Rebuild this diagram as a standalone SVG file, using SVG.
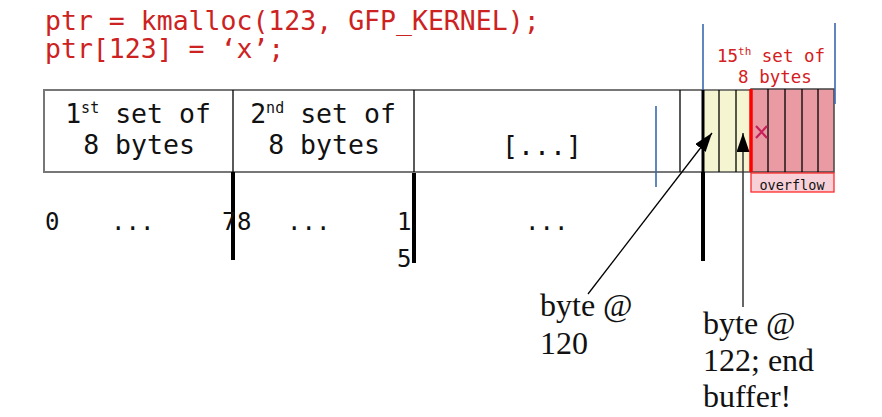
<svg xmlns="http://www.w3.org/2000/svg" width="882" height="417" viewBox="0 0 882 417">
<style>
.code{font-family:"DejaVu Sans Mono",monospace;font-size:26.5px;fill:#cc2222}
.mono{font-family:"DejaVu Sans Mono",monospace;font-size:26.5px;fill:#111}
.idx{font-family:"DejaVu Sans Mono",monospace;font-size:24px;fill:#111}
.sup{font-size:15px}
.red{font-family:"DejaVu Sans Mono",monospace;font-size:17.5px;fill:#d42020}
.small{font-family:"DejaVu Sans Mono",monospace;font-size:13.5px;fill:#111}
.serif{font-family:"Liberation Serif",serif;font-size:32px;fill:#111}
.thin{stroke:#000;stroke-width:1.3}
.thick{stroke:#000;stroke-width:4}
.blue{stroke:#3a68b0;stroke-width:1.6}
</style>
<defs>
<marker id="ah" viewBox="0 0 19 13" refX="19" refY="6.5" markerWidth="19" markerHeight="13" markerUnits="userSpaceOnUse" orient="auto">
<path d="M0,0 L19,6.5 L0,13 z" fill="#000"/>
</marker>
</defs>
<rect width="882" height="417" fill="#fff"/>
<g id="code">
<text class="code" x="45" y="30">ptr = kmalloc(123, GFP_KERNEL);</text>
<text class="code" x="45" y="58">ptr[123] = ‘x’;</text>
</g>
<g id="buffer">
<rect x="44" y="90" width="659" height="82" fill="#fff" stroke="#777" stroke-width="2"/>
<line class="thin" x1="233" y1="90" x2="233" y2="172"/>
<line class="thin" x1="414" y1="90" x2="414" y2="172"/>
<line class="thin" x1="680" y1="90" x2="680" y2="172"/>
<line class="blue" x1="656" y1="106" x2="656" y2="187"/>
</g>
<g id="set1">
<text class="mono" x="138" y="123" text-anchor="middle">1<tspan class="sup" dy="-10">st</tspan><tspan dy="10"> set of</tspan></text>
<text class="mono" x="139" y="154" text-anchor="middle">8 bytes</text>
</g>
<g id="set2">
<text class="mono" x="323" y="123" text-anchor="middle">2<tspan class="sup" dy="-10">nd</tspan><tspan dy="10"> set of</tspan></text>
<text class="mono" x="324" y="154" text-anchor="middle">8 bytes</text>
</g>
<g id="ellipsis">
<text class="mono" x="542" y="155" text-anchor="middle">[...]</text>
</g>
<g id="valid-bytes">
<rect x="703" y="90" width="48" height="82" fill="#f5f5d2" stroke="#555" stroke-width="1.5"/>
<line class="thin" x1="719" y1="90" x2="719" y2="172"/>
<line class="thin" x1="736" y1="90" x2="736" y2="172"/>
<line stroke="#000" stroke-width="3" x1="703" y1="90" x2="703" y2="172"/>
</g>
<g id="overflow-bytes">
<rect x="751" y="89" width="83" height="83" fill="#ea9aa2" stroke="#444" stroke-width="1.5"/>
<line class="thin" x1="768" y1="89" x2="768" y2="172"/>
<line class="thin" x1="785" y1="89" x2="785" y2="172"/>
<line class="thin" x1="802" y1="89" x2="802" y2="172"/>
<line class="thin" x1="818" y1="89" x2="818" y2="172"/>
<line stroke="#ff0000" stroke-width="3.5" x1="751" y1="89" x2="751" y2="172"/>
<path d="M756,126 L767,138 M767,126 L756,138" stroke="#c8205a" stroke-width="2.2" fill="none"/>
</g>
<g id="overflow-label">
<rect x="751" y="173" width="83" height="19" fill="#f8d0d8" stroke="#ff2a2a" stroke-width="1.3"/>
<text class="small" x="792" y="190" text-anchor="middle">overflow</text>
</g>
<g id="set15">
<line class="blue" x1="703" y1="24" x2="703" y2="90"/>
<line class="blue" x1="835" y1="23" x2="835" y2="104"/>
<text class="red" x="771" y="62" text-anchor="middle">15<tspan font-size="11" dy="-7">th</tspan><tspan dy="7"> set of</tspan></text>
<text class="red" x="775" y="83" text-anchor="middle">8 bytes</text>
</g>
<g id="ticks">
<line class="thick" x1="233" y1="172" x2="233" y2="260"/>
<line class="thick" x1="414" y1="173" x2="414" y2="263"/>
<line class="thick" x1="703" y1="172" x2="703" y2="261"/>
</g>
<g id="indices">
<text class="idx" x="45" y="230">0</text>
<text class="idx" x="111" y="230">...</text>
<text class="idx" x="222" y="230">7</text>
<text class="idx" x="237" y="230">8</text>
<text class="idx" x="287" y="230">...</text>
<text class="idx" x="397" y="230">1</text>
<text class="idx" x="397" y="267">5</text>
<text class="idx" x="525" y="230">...</text>
</g>
<g id="connectors">
<line x1="588" y1="294" x2="712" y2="133" stroke="#000" stroke-width="1.3" marker-end="url(#ah)"/>
<line x1="743" y1="307" x2="743" y2="133" stroke="#333" stroke-width="1.5" marker-end="url(#ah)"/>
</g>
<g id="label-120">
<text class="serif" x="540" y="316">byte @</text>
<text class="serif" x="540" y="354">120</text>
</g>
<g id="label-122">
<text class="serif" x="703" y="334">byte @</text>
<text class="serif" x="703" y="371">122; end</text>
<text class="serif" x="703" y="407">buffer!</text>
</g>
</svg>
